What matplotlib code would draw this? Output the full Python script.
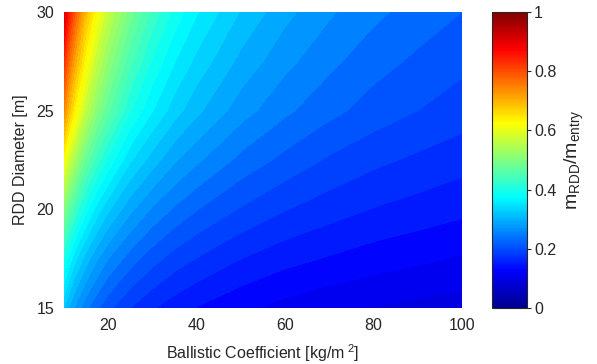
import numpy as np
import matplotlib
matplotlib.use("Agg")
import matplotlib.pyplot as plt
from matplotlib import cm, colors

plt.rcParams['font.family'] = ['Liberation Sans', 'DejaVu Sans']
plt.rcParams['mathtext.fontset'] = 'custom'
plt.rcParams['mathtext.rm'] = 'Liberation Sans'
plt.rcParams['mathtext.it'] = 'Liberation Sans'

# Ballistic coefficient [kg/m^2] (x) and RDD diameter [m] (y)
ballistic_coeff = [10, 11, 12.5, 15, 17.5, 20, 25, 30, 35, 40, 50, 60, 70, 80, 90, 100]
rdd_diameter = [15, 17.5, 20, 22.5, 25, 27.5, 30]

# m_RDD / m_entry, rows = diameter, cols = ballistic coeff
mass_ratio = [
    [0.320, 0.300, 0.276, 0.245, 0.223, 0.205, 0.180, 0.162, 0.149, 0.139, 0.124, 0.113, 0.105, 0.099, 0.094, 0.090],
    [0.400, 0.376, 0.346, 0.310, 0.282, 0.260, 0.230, 0.208, 0.191, 0.179, 0.160, 0.147, 0.138, 0.130, 0.124, 0.118],
    [0.500, 0.470, 0.432, 0.386, 0.351, 0.324, 0.285, 0.257, 0.237, 0.221, 0.198, 0.181, 0.169, 0.159, 0.152, 0.145],
    [0.620, 0.581, 0.534, 0.472, 0.428, 0.395, 0.343, 0.310, 0.283, 0.264, 0.234, 0.214, 0.197, 0.185, 0.176, 0.168],
    [0.740, 0.692, 0.634, 0.560, 0.505, 0.464, 0.402, 0.361, 0.329, 0.305, 0.269, 0.244, 0.226, 0.211, 0.200, 0.190],
    [0.830, 0.775, 0.709, 0.624, 0.562, 0.514, 0.445, 0.397, 0.361, 0.334, 0.294, 0.266, 0.245, 0.228, 0.216, 0.205],
    [0.920, 0.858, 0.783, 0.688, 0.618, 0.565, 0.487, 0.433, 0.393, 0.362, 0.318, 0.286, 0.263, 0.245, 0.231, 0.220],
]

x_ticks = [20, 40, 60, 80, 100]
y_ticks = [15, 20, 25, 30]
cbar_ticks = [0, 0.2, 0.4, 0.6, 0.8, 1]

# MATLAB-style jet colormap
matlab_jet = colors.LinearSegmentedColormap.from_list('matlab_jet', [
    (0.0, (0.0, 0.0, 0.5625)),
    (0.125, (0.0, 0.0, 1.0)),
    (0.375, (0.0, 1.0, 1.0)),
    (0.625, (1.0, 1.0, 0.0)),
    (0.875, (1.0, 0.0, 0.0)),
    (1.0, (0.5, 0.0, 0.0)),
], N=256)

fs = 11.5
fig = plt.figure(figsize=(5.97, 3.64), dpi=100)
ax = fig.add_axes([64/597, 56/364, 398/597, 296/364])

X, Y = np.meshgrid(ballistic_coeff, rdd_diameter)
Z = np.array(mass_ratio)
norm = colors.Normalize(vmin=0, vmax=1)
levels = np.linspace(0, 1, 51)
ax.contourf(X, Y, Z, levels=levels, cmap=matlab_jet, norm=norm, antialiased=False)

ax.set_xlim(10, 100)
ax.set_ylim(15, 30)
ax.set_xticks(x_ticks)
ax.set_yticks(y_ticks)
ax.tick_params(length=0, labelsize=fs, colors='#262626', pad=7)
for s in ax.spines.values():
    s.set_visible(False)
ax.set_xlabel(r'Ballistic Coefficient [kg/m$^{\ 2}$]', fontsize=fs, color='#262626', labelpad=7)
ax.set_ylabel('RDD Diameter [m]', fontsize=fs, color='#262626', labelpad=6)

cax = fig.add_axes([492/597, 56/364, 35/597, 296/364])
sm = cm.ScalarMappable(norm=norm, cmap=matlab_jet)
cb = fig.colorbar(sm, cax=cax, ticks=cbar_ticks)
cb.ax.set_yticklabels(['0', '0.2', '0.4', '0.6', '0.8', '1'])
cb.ax.tick_params(labelsize=fs, colors='#262626', length=3, direction='out', pad=2)
cb.outline.set_edgecolor('#262626')
cb.outline.set_linewidth(0.8)
cb.set_label(r'm$_{\mathrm{RDD}}$/m$_{\mathrm{entry}}$', fontsize=14, color='#262626', labelpad=5)

fig.savefig('out.png', dpi=100)
